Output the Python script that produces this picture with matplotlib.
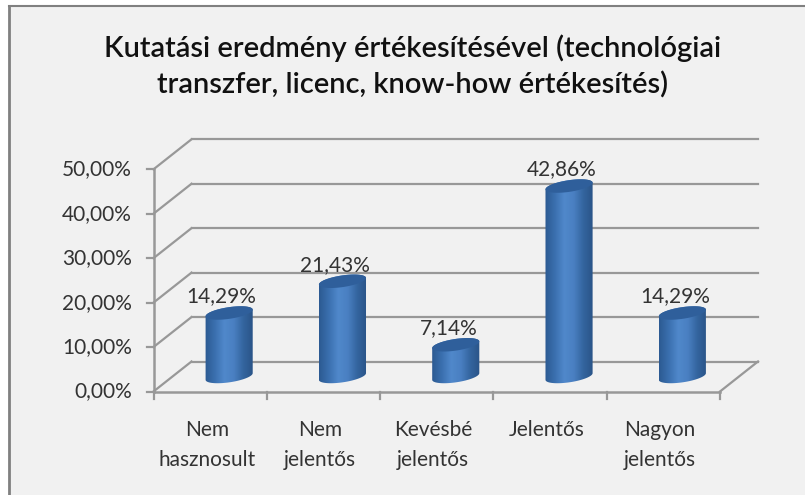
"""3D-look cylinder column chart, drawn on a flat axes with a pixel depth offset."""
import numpy as np
import matplotlib
matplotlib.use("Agg")
import matplotlib.pyplot as plt
from matplotlib.colors import LinearSegmentedColormap
from matplotlib.path import Path
from matplotlib.transforms import Affine2D, IdentityTransform

title = "Kutatási eredmény értékesítésével (technológiai\ntranszfer, licenc, know-how értékesítés)"
categories = ["Nem\nhasznosult", "Nem\njelentős", "Kevésbé\njelentős", "Jelentős", "Nagyon\njelentős"]
values = [14.29, 21.43, 7.14, 42.86, 14.29]
value_labels = ["14,29%", "21,43%", "7,14%", "42,86%", "14,29%"]
y_ticks = [0, 10, 20, 30, 40, 50]
y_tick_labels = ["0,00%", "10,00%", "20,00%", "30,00%", "40,00%", "50,00%"]

W, H = 805, 495
BG = "#f1f1f1"
GRID = "#989898"
TXT = "#333333"
DX, DY = 38, 30   # depth of the floor in pixels

plt.rcParams["font.family"] = ["Lato", "DejaVu Sans"]
fig = plt.figure(figsize=(W / 100, H / 100), dpi=100, facecolor="white")

def frac(x0, y0, x1, y1):
    return [x0 / W, 1 - y1 / H, (x1 - x0) / W, (y1 - y0) / H]

bg = fig.add_axes(frac(9, 6, W, H))
bg.set_xticks([]); bg.set_yticks([])
bg.set_facecolor(BG)
bg.spines["right"].set_visible(False); bg.spines["bottom"].set_visible(False)
bg.spines["left"].set_color("#808080"); bg.spines["top"].set_color("#808080")
bg.spines["left"].set_linewidth(2); bg.spines["top"].set_linewidth(1.5)

# axes covers the front plane of the chart box
ax = fig.add_axes(frac(153.5, 169.3, 720, 391.5))
ax.patch.set_visible(False)
ax.set_xlim(0, len(categories)); ax.set_ylim(0, 50)
for s in ax.spines.values():
    s.set_visible(False)
ax.set_xticks([]); ax.set_yticks([])

back = ax.transData + Affine2D().translate(DX, DY)
mid = ax.transData + Affine2D().translate(DX / 2, DY / 2)
n = len(categories)

# gridlines on the back wall and side wall
for t, lab in zip(y_ticks, y_tick_labels):
    ax.plot([0, n], [t, t], color=GRID, lw=1.6, transform=back, clip_on=False, zorder=1)
    a = ax.transData.transform((0, t)); b = a + [DX, DY]
    ax.plot([a[0], b[0]], [a[1], b[1]], color=GRID, lw=1.6, transform=IdentityTransform(),
            clip_on=False, zorder=1)
    ax.plot([-0.058, 0], [t, t], color=GRID, lw=1.6, clip_on=False, zorder=2)
    ax.text(-0.19, t, lab, ha="right", va="center", fontsize=15, color=TXT, zorder=5)

# front edges of the floor
a = ax.transData.transform((n, 0)); b = a + [DX, DY]
ax.plot([a[0], b[0]], [a[1], b[1]], color=GRID, lw=1.6, transform=IdentityTransform(),
        clip_on=False, zorder=1)
ax.plot([0, 0], [0, 50], color=GRID, lw=1.8, clip_on=False, zorder=2)
ax.plot([0, n], [0, 0], color=GRID, lw=1.8, clip_on=False, zorder=2)
for i in range(n + 1):
    ax.plot([i, i], [0, -1.6], color=GRID, lw=1.6, clip_on=False, zorder=2)

# cylinders
body = LinearSegmentedColormap.from_list("body", ["#2c5a92", "#3a6fae", "#5088cb", "#4a80c2",
                                                  "#34659f", "#2a5488"])
HALF_W = 23.8
ELL_B = 5.8
THETA = np.arctan(0.15)
grad = np.linspace(0, 1, 128).reshape(1, -1)

def ell(c, t):
    # rotated ellipse round the display point c
    ex, ey = HALF_W * np.cos(t), ELL_B * np.sin(t)
    return np.c_[c[0] + ex * np.cos(THETA) - ey * np.sin(THETA),
                 c[1] + ex * np.sin(THETA) + ey * np.cos(THETA)]

t0 = np.arctan2(-ELL_B * np.sin(THETA), HALF_W * np.cos(THETA))   # rightmost point of the ellipse
upper = np.linspace(t0, t0 + np.pi, 50)
lower = np.linspace(t0 + np.pi, t0 + 2 * np.pi, 50)

for i, v in enumerate(values):
    cb = mid.transform((i + 0.5, 0)); ct = mid.transform((i + 0.5, v))
    outline = np.vstack([ell(cb, lower), ell(ct, upper)])
    pth = Path(np.vstack([outline, outline[0]]), closed=True)
    im = ax.imshow(grad, cmap=body, aspect="auto", zorder=3, interpolation="bilinear",
                   extent=(cb[0] - HALF_W, cb[0] + HALF_W, cb[1] - 12, ct[1] + 12),
                   transform=IdentityTransform())
    im.set_clip_path(pth, IdentityTransform())
    lid = np.vstack([ell(ct, upper), ell(ct, lower)])
    ax.fill(lid[:, 0], lid[:, 1], color="#2f5f9b", transform=IdentityTransform(), zorder=4,
            clip_on=False, lw=0)
    ax.text(ct[0] - 7.5, ct[1] + 6.5, value_labels[i], ha="center", va="bottom", fontsize=15,
            color=TXT, transform=IdentityTransform(), zorder=5)

ax.set_xlim(0, n); ax.set_ylim(0, 50)

# category labels
for i, c in enumerate(categories):
    ax.text(i + 0.47, -6.5, c, ha="center", va="top", fontsize=15, color=TXT, linespacing=1.6,
            clip_on=False, zorder=5)

fig.text(412.5 / W, 1 - 66.5 / H, title, ha="center", va="center", fontsize=21, fontweight="semibold",
         color="#111111", linespacing=1.42)

fig.savefig("out.png", dpi=100, facecolor="white")
